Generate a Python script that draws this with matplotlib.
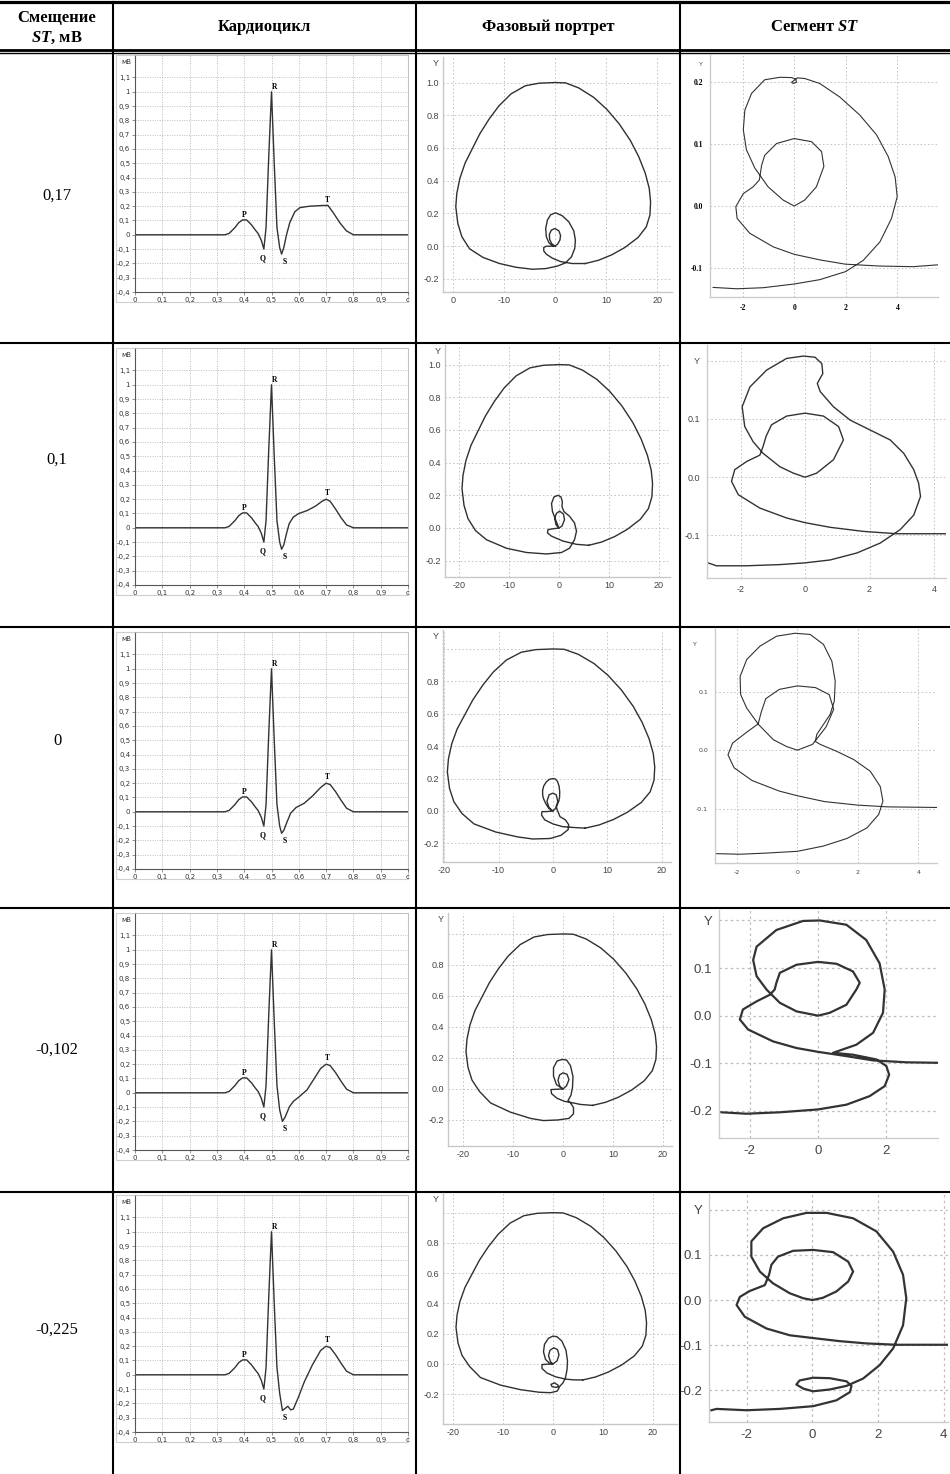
import numpy as np
import matplotlib
matplotlib.use('Agg')
import matplotlib.pyplot as plt
from matplotlib.patches import Rectangle

st_shift = ['0,17', '0,1', '0', '-0,102', '-0,225']

# cardiocycle: common P wave + QRS up to 0.52 s, then per-row S / ST / T tail
pqr_t = [0, 0.33, 0.345, 0.366, 0.38, 0.394, 0.409, 0.427, 0.44, 0.451, 0.463, 0.472, 0.48, 0.49, 0.50, 0.51, 0.52]
pqr_u = [0, 0, 0.01, 0.05, 0.085, 0.104, 0.104, 0.069, 0.035, 0.009, -0.04, -0.10, 0.05, 0.55, 1.0, 0.5, 0.05]

tail1_t = [0.53, 0.537, 0.545, 0.555, 0.567, 0.585, 0.604, 0.64, 0.69, 0.707, 0.726, 0.75, 0.774, 0.80, 1.0]
tail1_u = [-0.09, -0.135, -0.09, 0.0, 0.085, 0.16, 0.19, 0.20, 0.205, 0.205, 0.155, 0.085, 0.028, 0, 0]
tail2_t = [0.53, 0.537, 0.545, 0.555, 0.565, 0.58, 0.60, 0.63, 0.66, 0.685, 0.70, 0.715, 0.735, 0.755, 0.775, 0.80, 1.0]
tail2_u = [-0.10, -0.15, -0.12, -0.04, 0.03, 0.075, 0.10, 0.12, 0.15, 0.185, 0.20, 0.185, 0.13, 0.07, 0.02, 0, 0]
tail3_t = [0.53, 0.537, 0.545, 0.555, 0.57, 0.59, 0.62, 0.65, 0.68, 0.70, 0.715, 0.735, 0.755, 0.775, 0.80, 1.0]
tail3_u = [-0.10, -0.15, -0.13, -0.08, -0.01, 0.03, 0.06, 0.11, 0.17, 0.20, 0.19, 0.14, 0.08, 0.025, 0, 0]
tail4_t = [0.53, 0.54, 0.55, 0.565, 0.58, 0.60, 0.63, 0.66, 0.68, 0.70, 0.715, 0.735, 0.755, 0.775, 0.80, 1.0]
tail4_u = [-0.12, -0.20, -0.17, -0.10, -0.06, -0.03, 0.02, 0.11, 0.17, 0.20, 0.19, 0.14, 0.08, 0.025, 0, 0]
tail5_t = [0.53, 0.54, 0.55, 0.56, 0.57, 0.58, 0.60, 0.62, 0.65, 0.68, 0.70, 0.715, 0.735, 0.755, 0.775, 0.80, 1.0]
tail5_u = [-0.13, -0.25, -0.235, -0.22, -0.245, -0.24, -0.15, -0.05, 0.07, 0.17, 0.20, 0.19, 0.14, 0.08, 0.025, 0, 0]

# phase portrait: big R loop (same in every row) + row specific inner part
arc_x = [5.94, 8.52, 11.10, 13.68, 16.26, 17.87, 18.58, 18.71, 18.45, 17.68, 16.39, 14.77, 12.58, 10.13, 7.55, 4.65,
         2.06, 0, -3.10, -5.81, -8.58, -10.97, -12.90, -14.71, -16.13, -17.6, -18.6, -19.2, -19.4, -19.0, -18.2, -16.7]
arc_y = [-0.106, -0.086, -0.053, -0.008, 0.053, 0.118, 0.19, 0.271, 0.353, 0.445, 0.547, 0.645, 0.747, 0.837, 0.910,
         0.967, 0.998, 1.0, 0.996, 0.980, 0.931, 0.857, 0.776, 0.686, 0.598, 0.506, 0.414, 0.322, 0.241, 0.139, 0.057, -0.016]

pp1_x = [-14.06, -10.84, -7.61, -4.39, -1.81, 0.45, 2.06, 3.23, 3.87, 4.0, 3.68, 2.71, 1.42, 0.13, -0.84, -1.48, -1.81,
         -1.68, -1.16, -0.52, 0, 0.52, 0.97, 1.10, 0.77, 0, -0.71, -1.10, -1.03, -0.65, 0,
         -0.84, -1.68, -2.19, -2.19, -1.68, -0.52, 1.10, 3.35]
pp1_y = [-0.069, -0.106, -0.129, -0.141, -0.137, -0.122, -0.102, -0.065, -0.014, 0.037, 0.094, 0.149, 0.186, 0.204,
         0.192, 0.159, 0.108, 0.057, 0.020, 0.004, 0, 0.012, 0.037, 0.065, 0.094, 0.108, 0.098, 0.071, 0.041, 0.016, 0,
         0, 0, -0.008, -0.029, -0.049, -0.073, -0.094, -0.106]
pp2_x = [-14.5, -10.5, -6.5, -2.5, 0.5, 2.1, 3.1, 3.5, 3.1, 2.1, 1.0, 0.6, 0.67, 0.4, -0.2, -1.0, -1.5, -1.3, -0.8,
         -0.3, 0, 0.6, 1.1, 0.9, 0.13, -0.5, -0.87, -0.6, 0, -1.2, -2.2, -2.3, -1.5, 0.8, 3.5]
pp2_y = [-0.072, -0.124, -0.15, -0.159, -0.15, -0.124, -0.072, -0.02, 0.031, 0.072, 0.1, 0.13, 0.16, 0.19, 0.2, 0.19,
         0.15, 0.1, 0.06, 0.02, 0, 0.012, 0.05, 0.085, 0.103, 0.09, 0.06, 0.02, 0, -0.005, -0.01, -0.03, -0.05, -0.08, -0.1]
pp3_x = [-14.5, -10.5, -6.5, -3.7, -0.5, 1.5, 2.8, 2.9, 2.3, 1.3, 0.75, 0.64, 1.08, 1.22, 1.25, 1.14, 0.86, 0.42, 0,
         -0.69, -1.24, -1.68, -1.90, -1.88, -1.68, -1.29, -0.80, -0.35, 0, 0.5, 0.9, 0.6, 0, -0.7, -1.1, -0.7, 0,
         -1.2, -2.0, -2.1, -1.5, 0, 1.8, 4.3]
pp3_y = [-0.08, -0.13, -0.16, -0.173, -0.17, -0.15, -0.115, -0.085, -0.055, -0.035, 0.010, 0.027, 0.061, 0.084, 0.118,
         0.152, 0.181, 0.198, 0.2, 0.195, 0.178, 0.155, 0.126, 0.095, 0.072, 0.044, 0.018, 0.006, 0, 0.016, 0.058, 0.1,
         0.11, 0.1, 0.06, 0.02, 0, -0.004, -0.004, -0.025, -0.055, -0.08, -0.097, -0.103]
pp4_x = [-14.5, -10.5, -6.5, -3.9, -1.0, 1.2, 2.1, 2.1, 1.5, 1.0, 1.6, 1.9, 2.0, 1.5, 0.7, -0.2, -1.2, -1.9, -1.9,
         -1.3, 0, 0.7, 1.2, 0.8, 0, -0.7, -1.0, -0.6, 0, -1.3, -2.4, -2.3, -1.2, 0.3, 2.0, 3.5]
pp4_y = [-0.09, -0.15, -0.19, -0.204, -0.2, -0.19, -0.16, -0.12, -0.09, -0.075, -0.04, 0.01, 0.08, 0.15, 0.187, 0.19,
         0.18, 0.137, 0.083, 0.028, 0, 0.02, 0.06, 0.095, 0.104, 0.09, 0.055, 0.015, 0, -0.002, -0.004, -0.03, -0.06,
         -0.08, -0.09, -0.1]
pp5_x = [-14.5, -10.5, -6.5, -2.8, -0.5, 0.8, 1.2, 1.0, 0.3, -0.4, -0.2, 0.5, 1.3, 2.0, 2.5, 2.8, 2.9, 2.6, 1.8, 0.8,
         0, -0.9, -1.7, -1.9, -1.5, -0.7, 0, 0.8, 1.2, 0.9, 0.13, -0.6, -0.9, -0.5, 0, -1.3, -2.2, -2.2, -1.2, 0.5, 2.5, 4.0]
pp5_y = [-0.09, -0.14, -0.17, -0.187, -0.19, -0.18, -0.16, -0.14, -0.125, -0.135, -0.15, -0.155, -0.15, -0.125, -0.09,
         -0.04, 0.02, 0.09, 0.15, 0.18, 0.184, 0.17, 0.13, 0.08, 0.03, 0.005, 0, 0.02, 0.06, 0.095, 0.107, 0.09, 0.055,
         0.015, 0, -0.002, -0.004, -0.03, -0.06, -0.085, -0.1, -0.105]

# ST segment close-ups
st1_x = [-3.14, -2.23, -1.20, 0, 0.99, 1.99, 2.67, 3.32, 3.77, 3.99, 3.91, 3.64, 3.19, 2.54, 1.77, 0.99, 0.41, 0.12,
         0.03, -0.10, -0.04, 0.09, 0.06, -0.10, -0.55, -1.14, -1.65, -1.91, -1.97, -1.85, -1.52, -1.01, -0.43, 0,
         0.41, 0.86, 1.15, 1.06, 0.67, 0, -0.68, -1.14, -1.26, -1.35,
         -1.59, -1.97, -2.26, -2.21, -1.72, -0.81, 0, 0.99, 1.99, 3.32, 4.61, 5.57]
st1_y = [-0.1315, -0.1337, -0.132, -0.126, -0.119, -0.106, -0.088, -0.058, -0.020, 0.015, 0.047, 0.080, 0.115, 0.147,
         0.176, 0.198, 0.206, 0.207, 0.204, 0.200, 0.198, 0.200, 0.205, 0.2075, 0.208, 0.204, 0.182, 0.155, 0.123,
         0.091, 0.061, 0.031, 0.0097, 0, 0.0097, 0.031, 0.064, 0.088, 0.104, 0.109, 0.101, 0.082, 0.066, 0.042,
         0.031, 0.020, -0.001, -0.020, -0.044, -0.066, -0.078, -0.087, -0.094, -0.097, -0.098, -0.095]
st2_x = [-3.01, -2.75, -1.81, -0.78, 0, 0.78, 1.61, 2.33, 2.95, 3.37, 3.58, 3.52, 3.37, 3.06, 2.64, 2.02, 1.40, 0.88,
         0.47, 0.38, 0.55, 0.52, 0.31, -0.05, -0.57, -1.19, -1.71, -1.95, -1.87, -1.61, -1.30, -0.78, -0.36, 0,
         0.36, 0.88, 1.19, 1.04, 0.57, 0, -0.57, -1.04, -1.21, -1.30, -1.40,
         -1.81, -2.18, -2.28, -2.07, -1.40, -0.57, 0, 0.78, 1.81, 2.85, 4.37]
st2_y = [-0.147, -0.152, -0.152, -0.150, -0.147, -0.142, -0.130, -0.113, -0.090, -0.065, -0.033, -0.010, 0.013, 0.041,
         0.064, 0.081, 0.098, 0.121, 0.147, 0.161, 0.178, 0.195, 0.206, 0.208, 0.204, 0.184, 0.155, 0.121, 0.087,
         0.061, 0.041, 0.018, 0.007, 0, 0.007, 0.030, 0.064, 0.087, 0.105, 0.110, 0.105, 0.090, 0.070, 0.053, 0.038,
         0.027, 0.013, -0.007, -0.030, -0.053, -0.070, -0.078, -0.086, -0.093, -0.097, -0.097]
st3_x = [-2.70, -1.90, -1.02, 0, 0.86, 1.64, 2.30, 2.69, 2.83, 2.74, 2.41, 1.86, 1.30, 0.75, 0.59, 0.64, 0.86, 1.08,
         1.22, 1.25, 1.14, 0.86, 0.42, -0.08, -0.69, -1.24, -1.68, -1.90, -1.88, -1.68, -1.29, -0.80, -0.35, 0,
         0.5, 0.95, 1.2, 1.05, 0.6, 0, -0.6, -1.05, -1.2, -1.3,
         -1.7, -2.15, -2.3, -2.1, -1.5, -0.6, 0, 0.9, 2.0, 3.0, 4.62]
st3_y = [-0.177, -0.178, -0.176, -0.173, -0.164, -0.151, -0.133, -0.110, -0.087, -0.062, -0.036, -0.016, -0.002, 0.010,
         0.015, 0.027, 0.044, 0.061, 0.084, 0.118, 0.152, 0.181, 0.198, 0.2, 0.195, 0.178, 0.155, 0.126, 0.095, 0.072,
         0.044, 0.018, 0.006, 0, 0.01, 0.04, 0.07, 0.095, 0.107, 0.11, 0.104, 0.088, 0.065, 0.045,
         0.03, 0.012, -0.008, -0.03, -0.052, -0.07, -0.078, -0.088, -0.094, -0.097, -0.098]
st4_x = [-2.83, -2.10, -1.12, 0, 0.83, 1.51, 1.95, 2.08, 2.0, 1.71, 1.02, 0.44, 1.12, 1.61, 1.90, 1.95, 1.80, 1.41,
         0.83, 0.05, -0.44, -1.22, -1.80, -1.90, -1.80, -1.51, -1.12, -0.63, 0,
         0.34, 0.83, 1.12, 1.22, 1.02, 0.54, 0, -0.63, -1.12, -1.22, -1.27, -1.41,
         -1.80, -2.20, -2.29, -2.05, -1.32, -0.63, 0, 0.83, 1.61, 2.59, 3.51]
st4_y = [-0.203, -0.206, -0.203, -0.197, -0.187, -0.169, -0.148, -0.124, -0.106, -0.092, -0.082, -0.078, -0.061, -0.036,
         0.006, 0.055, 0.110, 0.159, 0.191, 0.2, 0.199, 0.180, 0.145, 0.117, 0.083, 0.055, 0.027, 0.009, 0,
         0.006, 0.023, 0.055, 0.069, 0.093, 0.109, 0.113, 0.107, 0.090, 0.069, 0.055, 0.044,
         0.030, 0.013, -0.008, -0.029, -0.054, -0.068, -0.076, -0.085, -0.094, -0.098, -0.099]
st5_x = [-3.08, -2.92, -2.01, -0.99, 0.02, 0.73, 1.14, 1.19, 1.04, 0.53, 0.02, -0.39, -0.49, -0.28, 0.02, 0.53, 1.04,
         1.54, 2.05, 2.46, 2.76, 2.86, 2.76, 2.46, 1.95, 1.24, 0.43, -0.18, -0.89, -1.50, -1.86, -1.86, -1.60, -1.20,
         -0.69, -0.28, 0, 0.32, 0.73, 1.09, 1.24, 1.09, 0.63, 0.02, -0.59, -1.05, -1.25, -1.32, -1.45,
         -1.91, -2.21, -2.31, -2.06, -1.40, -0.69, 0, 0.83, 1.64, 2.56, 4.13]
st5_y = [-0.244, -0.241, -0.244, -0.241, -0.235, -0.222, -0.204, -0.190, -0.180, -0.173, -0.172, -0.178, -0.187,
         -0.196, -0.202, -0.198, -0.190, -0.174, -0.144, -0.107, -0.056, 0.004, 0.056, 0.107, 0.152, 0.181, 0.193,
         0.193, 0.181, 0.159, 0.130, 0.096, 0.063, 0.037, 0.015, 0.004, 0, 0.005, 0.019, 0.041, 0.063, 0.085, 0.106,
         0.111, 0.109, 0.096, 0.078, 0.056, 0.033,
         0.020, 0.007, -0.011, -0.037, -0.063, -0.078, -0.084, -0.091, -0.096, -0.099, -0.099]

ecg_tails = [(tail1_t, tail1_u), (tail2_t, tail2_u), (tail3_t, tail3_u), (tail4_t, tail4_u), (tail5_t, tail5_u)]
pp_inner = [(pp1_x, pp1_y), (pp2_x, pp2_y), (pp3_x, pp3_y), (pp4_x, pp4_y), (pp5_x, pp5_y)]
st_curves = [(st1_x, st1_y), (st2_x, st2_y), (st3_x, st3_y), (st4_x, st4_y), (st5_x, st5_y)]

# ---- layout (pixels of the 950 x 1474 page) ----
W, H = 950, 1474
row_seps = [343, 627, 908, 1192]
col_lines = [113, 416, 680]
label_y = [196, 460, 741, 1050, 1330]
ecg_top = [55, 348, 632, 913, 1195]

pp_box = [(443, 57, 672, 292), (445, 345, 670, 577), (443, 630, 671, 862), (448, 913, 672, 1146), (443, 1193, 677, 1424)]
pp_xlim = [(-21.9, 22.9), (-22.8, 22.2), (-20.2, 21.7), (-23, 21.8), (-22, 24.8)]
pp_ylim = [(-0.28, 1.156), (-0.30, 1.12), (-0.315, 1.117), (-0.368, 1.135), (-0.397, 1.13)]

st_box = [(710, 55, 938, 297), (707, 345, 946, 578), (715, 628, 937, 863), (719, 910, 938, 1138), (709, 1193, 948, 1422)]
st_xlim = [(-3.26, 5.57), (-3.04, 4.37), (-2.73, 4.62), (-2.90, 3.51), (-3.15, 4.13)]
st_ylim = [(-0.147, 0.244), (-0.173, 0.227), (-0.193, 0.209), (-0.257, 0.222), (-0.27, 0.237)]

plt.rcParams['mathtext.fontset'] = 'custom'
plt.rcParams['mathtext.it'] = 'Liberation Serif:italic:bold'
plt.rcParams['mathtext.rm'] = 'Liberation Serif:bold'

fig = plt.figure(figsize=(W / 100, H / 100), dpi=100)


def px_axes(left, top, right, bottom):
    ax = fig.add_axes([left / W, 1 - bottom / H, (right - left) / W, (bottom - top) / H])
    ax.set_facecolor('none')
    return ax


def comma(v):
    return f'{v + 0.0:g}'.replace('.', ',')


# background layer for the table rules
ax0 = fig.add_axes([0, 0, 1, 1], zorder=-1)
ax0.set_xlim(0, W)
ax0.set_ylim(H, 0)
ax0.axis('off')
ax0.plot([0, W], [2, 2], color='black', lw=2.3)
ax0.plot([0, W], [50, 50], color='black', lw=2.0)
ax0.plot([0, W], [53, 53], color='black', lw=1.0)
for y in row_seps:
    ax0.plot([0, W], [y, y], color='black', lw=1.5)
for x in col_lines:
    ax0.plot([x, x], [2, H], color='black', lw=1.5)

serif = 'Liberation Serif'
fig.text(57 / W, 1 - 18 / H, 'Смещение', family=serif, weight='bold', size=12, ha='center', va='center')
fig.text(57 / W, 1 - 38 / H, '$ST$, мВ', family=serif, weight='bold', size=12, ha='center', va='center')
fig.text(264 / W, 1 - 27 / H, 'Кардиоцикл', family=serif, weight='bold', size=12, ha='center', va='center')
fig.text(548 / W, 1 - 27 / H, 'Фазовый портрет', family=serif, weight='bold', size=12, ha='center', va='center')
fig.text(815 / W, 1 - 27 / H, 'Сегмент $ST$', family=serif, weight='bold', size=12, ha='center', va='center')

for i in range(5):
    fig.text(57 / W, 1 - label_y[i] / H, st_shift[i], family=serif, size=12, ha='center', va='center')

    # --- cardiocycle ---
    top = ecg_top[i]
    ax0.add_patch(Rectangle((116, top), 292, 247, fill=False, ec='#cfcfcf', lw=0.8))
    ax = px_axes(135, top, 408, top + 237)
    t = pqr_t + ecg_tails[i][0]
    u = pqr_u + ecg_tails[i][1]
    ax.plot(t, u, color='#333333', lw=1.0)
    ax.set_xlim(0, 1)
    ax.set_ylim(-0.4, 1.257)
    xt = np.round(np.arange(0, 1.01, 0.1), 1)
    ax.set_xticks(xt)
    ax.set_xticklabels([comma(v) for v in xt[:-1]] + ['с'])
    yt = np.round(np.arange(-0.4, 1.15, 0.1), 1)
    ax.set_yticks(yt)
    ax.set_yticklabels([comma(v) for v in yt])
    ax.tick_params(length=2, width=0.5, color='#666', labelsize=5, labelcolor='#333', pad=1.5)
    ax.grid(True, color='#a8a8a8', ls=(0, (1.5, 2)), lw=0.5)
    for s in ['left', 'bottom']:
        ax.spines[s].set_color('#555')
        ax.spines[s].set_linewidth(0.8)
    for s in ['top', 'right']:
        ax.spines[s].set_color('#c0c0c0')
        ax.spines[s].set_linewidth(0.6)
    ax.text(-0.012, 1.21, 'мВ', ha='right', va='center', fontsize=5, color='#333', clip_on=False)
    smin = min(u)
    wave_lbl = [('P', 0.40, 0.135), ('Q', 0.466, -0.165), ('R', 0.512, 1.03), ('S', 0.548, smin - 0.055), ('T', 0.706, 0.245)]
    for name, lx, ly in wave_lbl:
        ax.text(lx, ly, name, family=serif, weight='bold', fontsize=5.5, ha='center', va='center')

    # --- phase portrait ---
    l, tp, r, b = pp_box[i]
    ax = px_axes(l, tp, r, b)
    px = arc_x + pp_inner[i][0] + [arc_x[0]]
    py = arc_y + pp_inner[i][1] + [arc_y[0]]
    ax.plot(px, py, color='#303030', lw=1.0, solid_joinstyle='round')
    ax.set_xlim(*pp_xlim[i])
    ax.set_ylim(*pp_ylim[i])
    ax.set_xticks([-20, -10, 0, 10, 20])
    if i == 0:
        ax.set_xticklabels(['0', '-10', '0', '10', '20'])
    else:
        ax.set_xticklabels(['-20', '-10', '0', '10', '20'])
    yv = [-0.2, 0.0, 0.2, 0.4, 0.6, 0.8, 1.0]
    ax.set_yticks(yv)
    ylab = [f'{v:.1f}' for v in yv]
    if i >= 2:
        ylab[-1] = ''
    ax.set_yticklabels(ylab)
    ax.tick_params(length=0, labelsize=6.5, labelcolor='#444', pad=3)
    for lab in ax.get_xticklabels() + ax.get_yticklabels():
        lab.set_family('Liberation Sans')
    ax.grid(True, color='#bdbdbd', ls=(0, (2, 2.5)), lw=0.6)
    ax.spines['top'].set_visible(False)
    ax.spines['right'].set_visible(False)
    for s in ['left', 'bottom']:
        ax.spines[s].set_color('#c8c8c8')
        ax.spines[s].set_linewidth(1.0)
    ax.text(-0.02, 0.99, 'Y', transform=ax.transAxes, ha='right', va='top', fontsize=6.5,
            color='#444', family='Liberation Sans')

    # --- ST segment close-up ---
    l, tp, r, b = st_box[i]
    ax = px_axes(l, tp, r, b)
    sx, sy = st_curves[i]
    thick = 1.6 if i >= 3 else (1.0 if i == 1 else 0.8)
    ax.plot(sx, sy, color='#333333', lw=thick, solid_joinstyle='round')
    ax.set_xlim(*st_xlim[i])
    ax.set_ylim(*st_ylim[i])
    xv = [v for v in [-2, 0, 2, 4] if v < st_xlim[i][1]]
    ax.set_xticks(xv)
    ax.set_xticklabels([str(v) for v in xv])
    if i == 0:
        ax.set_yticks([-0.1, 0.0, 0.1, 0.2])
        ax.set_yticklabels(['-0.1', '0.0', '0.1', '0.2'])
        ax.tick_params(length=0, labelsize=5.5, pad=5)
        for lab in ax.get_xticklabels() + ax.get_yticklabels():
            lab.set_family(serif)
            lab.set_weight('bold')
        ax.text(-0.03, 0.97, 'Y', transform=ax.transAxes, ha='right', va='top', fontsize=4.5, color='#555')
    elif i == 2:
        ax.set_yticks([-0.1, 0.0, 0.1])
        ax.set_yticklabels(['-0.1', '0.0', '0.1'])
        ax.tick_params(length=0, labelsize=4.5, labelcolor='#444', pad=5)
        ax.text(-0.09, 0.93, 'Y', transform=ax.transAxes, ha='center', va='center', fontsize=4.5, color='#444')
    else:
        yv = [-0.2, -0.1, 0.0, 0.1, 0.2] if i >= 3 else [-0.1, 0.0, 0.1, 0.2]
        ax.set_yticks(yv)
        ax.set_yticklabels([f'{v:.1f}' for v in yv[:-1]] + ['Y'])
        size = 9.5 if i >= 3 else 6.5
        ax.tick_params(length=0, labelsize=size, labelcolor='#444', pad=5)
        for lab in ax.get_xticklabels() + ax.get_yticklabels():
            lab.set_family('Liberation Sans')
    gw = 0.9 if i >= 3 else 0.6
    ax.grid(True, color='#bdbdbd', ls=(0, (2, 2.5)), lw=gw)
    ax.spines['top'].set_visible(False)
    ax.spines['right'].set_visible(False)
    for s in ['left', 'bottom']:
        ax.spines[s].set_color('#cccccc')
        ax.spines[s].set_linewidth(1.0)

fig.savefig('out.png', dpi=100)
